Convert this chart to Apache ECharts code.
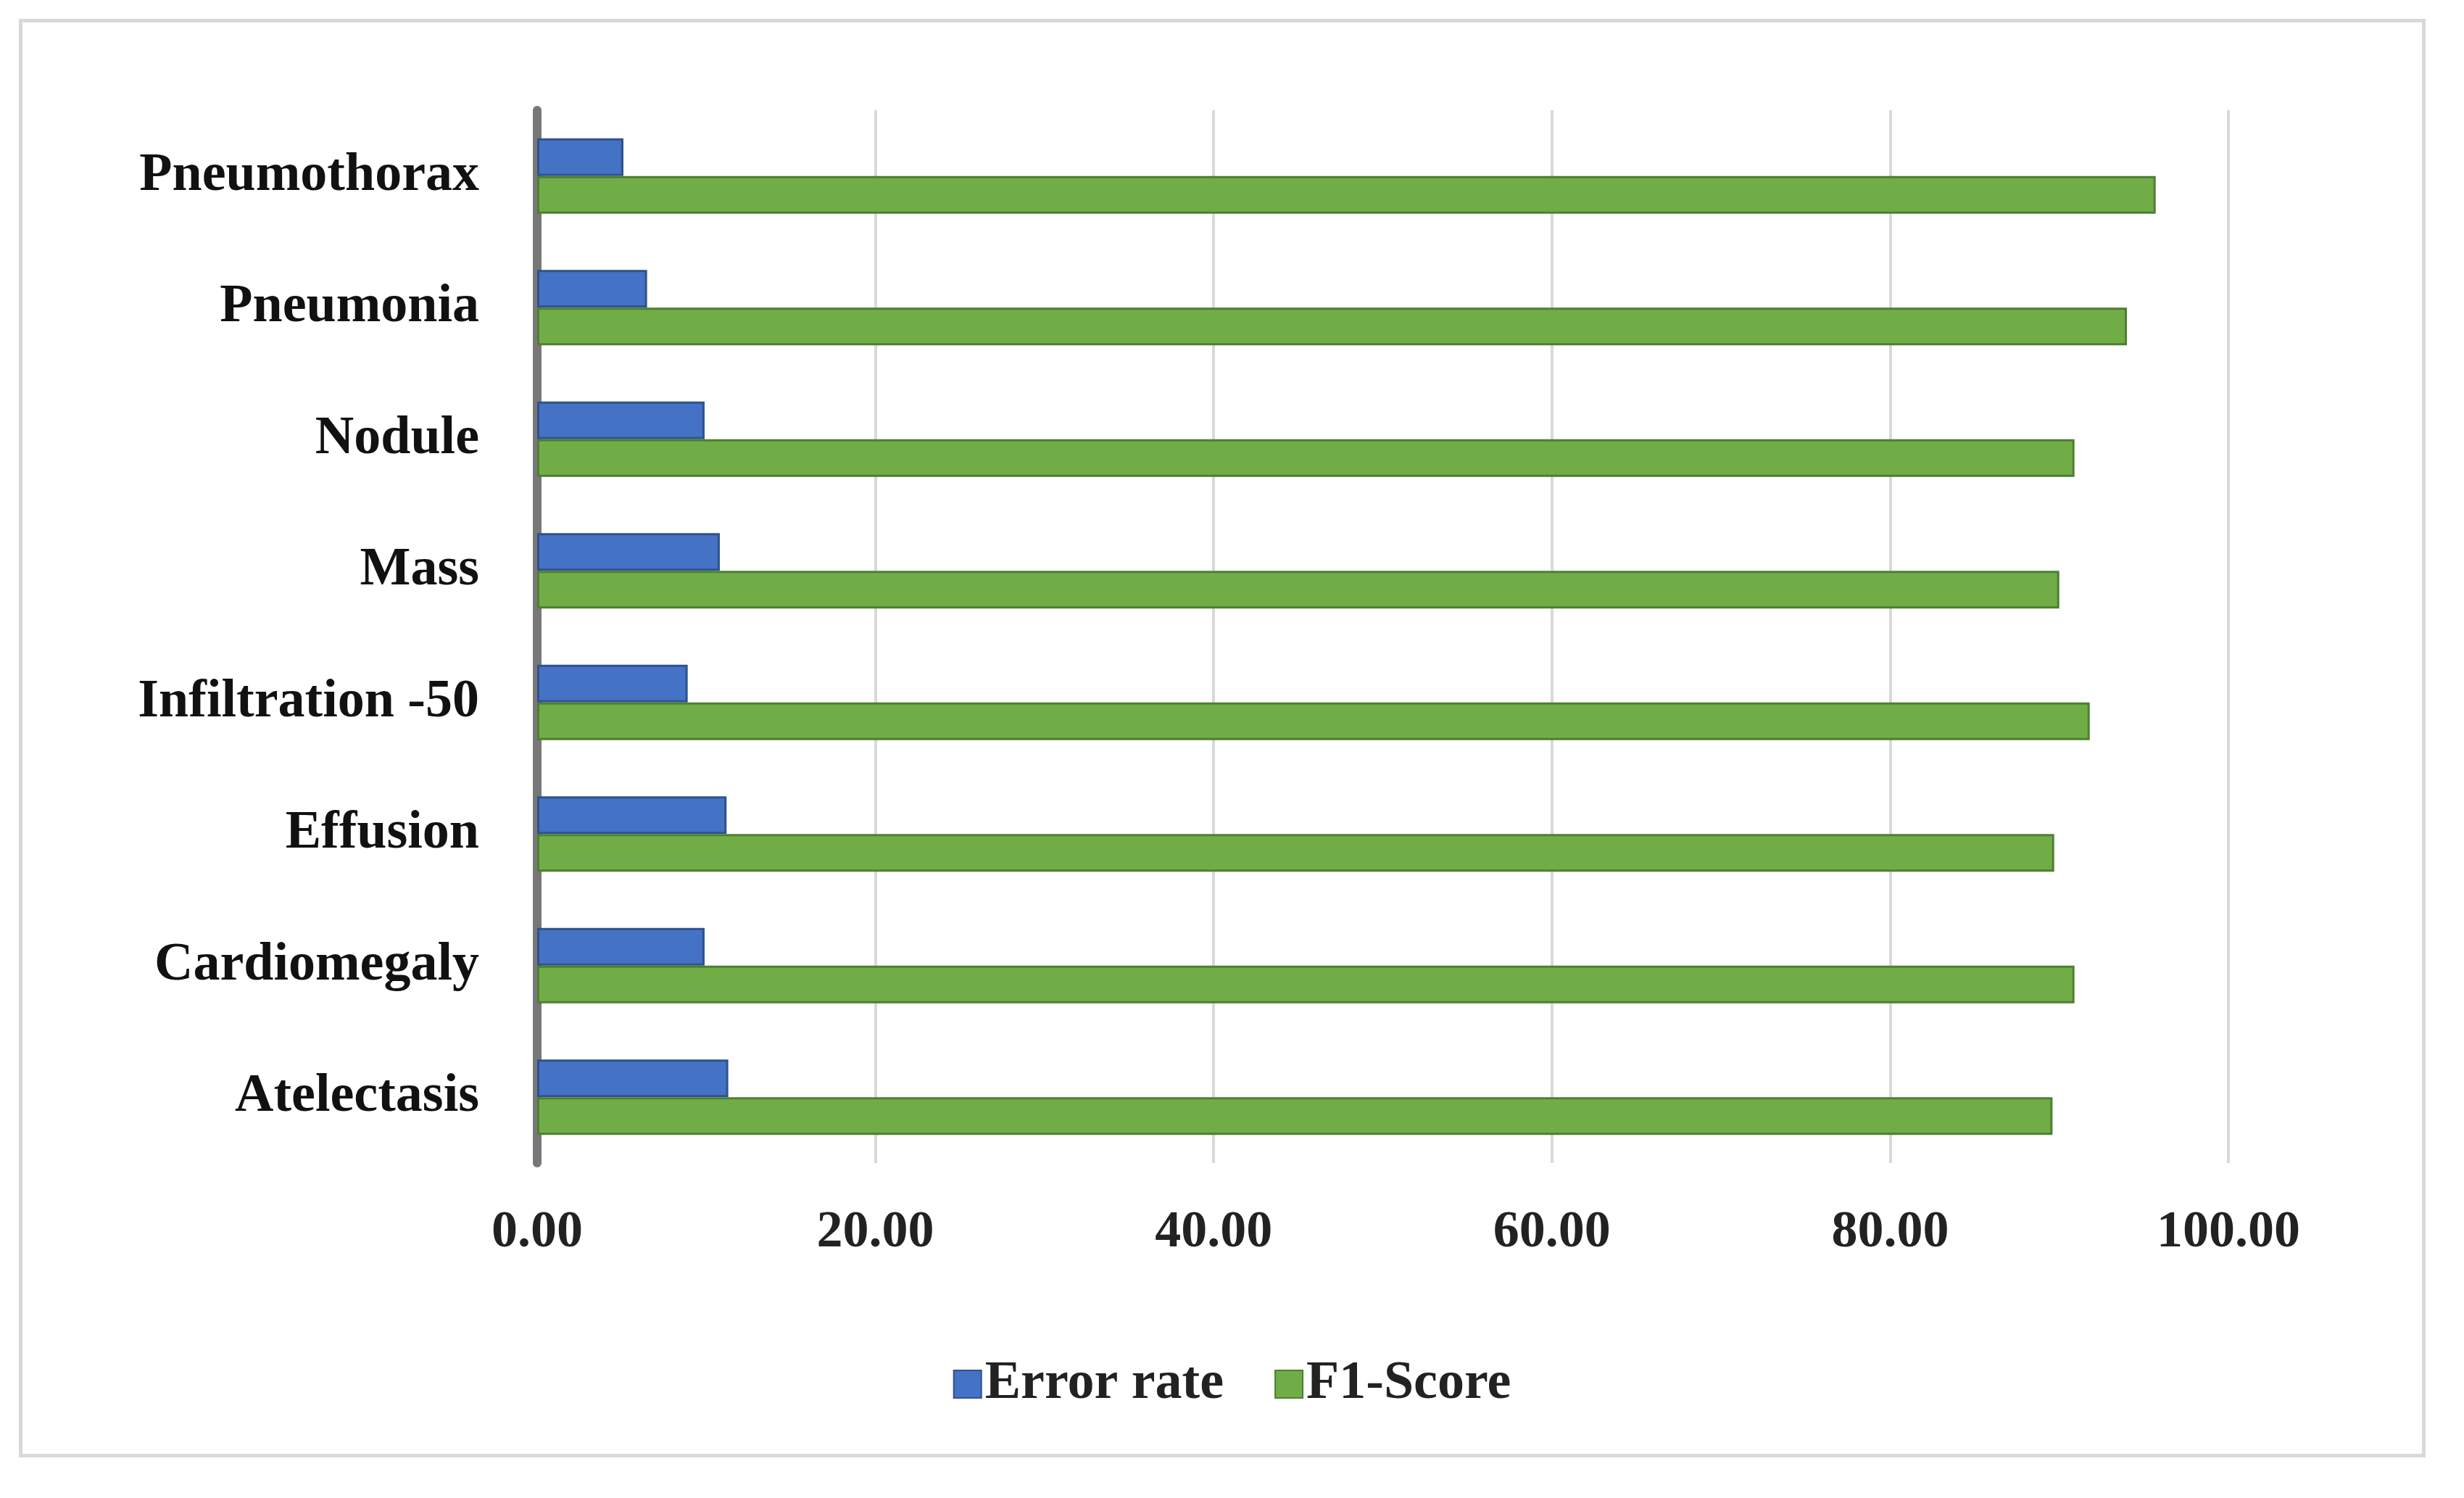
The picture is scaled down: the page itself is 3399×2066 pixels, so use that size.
<!DOCTYPE html>
<html>
<head>
<meta charset="utf-8">
<script src="https://cdn.jsdelivr.net/npm/echarts@6/dist/echarts.min.js"></script>
<style>
  html, body { margin: 0; padding: 0; background: #fff; }
  #frame { position: absolute; left: 26px; top: 26px; width: 3320px; height: 1984px; border: 5px solid #d9d9d9; box-sizing: border-box; }
  #chart { width: 3399px; height: 2066px; }
</style>
</head>
<body>
<div id="frame"></div>
<div id="chart"></div>
<script>
// categories bottom to top
const categories = ['Atelectasis', 'Cardiomegaly', 'Effusion', 'Infiltration -50', 'Mass', 'Nodule', 'Pneumonia', 'Pneumothorax'];
const errorRate = [11.3, 9.9, 11.2, 8.9, 10.8, 9.9, 6.5, 5.1];
const f1Score = [89.6, 90.9, 89.7, 91.8, 90.0, 90.9, 94.0, 95.7];
const xTicks = [0, 20, 40, 60, 80, 100];

const chart = echarts.init(document.getElementById('chart'));
const font = 'Liberation Serif';
chart.setOption({
  backgroundColor: 'transparent',
  legend: {
    data: ['Error rate', 'F1-Score'],
    bottom: 115,
    left: 'center',
    itemWidth: 38, itemHeight: 38, itemGap: 70,
    icon: 'rect',
    textStyle: { fontFamily: font, fontWeight: 'bold', fontSize: 74, color: '#222' }
  },
  grid: { left: 741, right: 325, top: 152, bottom: 462 },
  xAxis: {
    type: 'value', min: xTicks[0], max: xTicks[xTicks.length - 1], interval: 20,
    axisLine: { show: false }, axisTick: { show: false },
    splitLine: { lineStyle: { color: '#d9d9d9', width: 4 } },
    axisLabel: {
      margin: 60, fontFamily: font, fontWeight: 'bold', fontSize: 72, color: '#222',
      formatter: v => v.toFixed(2)
    }
  },
  yAxis: {
    type: 'category', data: categories,
    axisLine: { lineStyle: { color: '#777', width: 12 } },
    axisTick: { show: false },
    axisLabel: { margin: 80, fontFamily: font, fontWeight: 'bold', fontSize: 74, color: '#111' }
  },
  series: [
    {
      name: 'Error rate', type: 'bar', data: errorRate, barWidth: 52, barGap: '0%',
      itemStyle: { color: '#4472C4', borderColor: '#2F528F', borderWidth: 3 }
    },
    {
      name: 'F1-Score', type: 'bar', data: f1Score, barWidth: 52,
      itemStyle: { color: '#70AD47', borderColor: '#4E7F30', borderWidth: 3 }
    }
  ]
});
</script>
</body>
</html>
